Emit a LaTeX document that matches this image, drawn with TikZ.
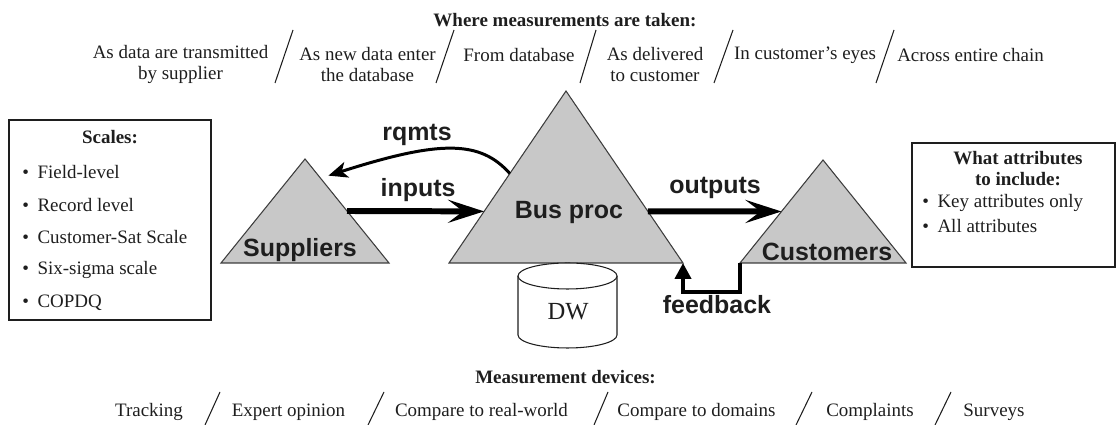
\documentclass[tikz,border=0pt]{standalone}
\usepackage{fontspec}
\setmainfont{Liberation Serif}
\setsansfont{Liberation Sans}
\usepackage{tikz}
\usetikzlibrary{arrows.meta, positioning, calc}
\usepackage{xcolor}
\definecolor{trigray}{RGB}{200,200,200}
\definecolor{edgegray}{RGB}{60,60,60}
\definecolor{inkgray}{RGB}{30,30,30}
\tikzset{%
	every process/.style={
		fill=trigray,
		draw=edgegray,
		line width=0.6pt
	},
	process label/.style={
		font=\sffamily\bfseries\fontsize{14.2}{16}\selectfont,
		text=inkgray,
		inner sep=0pt
	},
	place text/.style={
		font=\fontsize{10.8}{11.6}\selectfont,
		align=center,
		text=inkgray,
		inner sep=0pt
	},
	place title/.style={
		place text,
		font=\bfseries\fontsize{10.8}{11.6}\selectfont
	},
	info box/.style={
		draw=inkgray,
		line width=0.8pt,
		inner sep=0pt
	},
	divider/.style={
		draw=inkgray,
		line width=0.6pt
	},
	flow/.style={
		draw=black,
		line width=3.4pt,
		-{Stealth[length=0.72cm, width=0.46cm, inset=0.3cm]}
	},
	request/.style={
		draw=black,
		line width=1.7pt,
		-{Stealth[length=0.38cm, width=0.32cm, inset=0.1cm]}
	},
	back flow/.style={
		draw=black,
		line width=2.3pt,
		-{Triangle[length=0.32cm, width=0.32cm]}
	},
}
\begin{document}
\begin{tikzpicture}
			\useasboundingbox (0,0) rectangle (22.38,8.50);

			% Where measurements are taken
			\node[place title] (where) at (11.30,8.10) {Where measurements are taken:};
			\node[place text] (place1) at (3.61,7.21) {As data are transmitted\\by supplier};
			\node[place text] (place2) at (7.35,7.21) {As new data enter\\the database};
			\node[place text] (place3) at (10.38,7.40) {From database};
			\node[place text] (place4) at (13.10,7.21) {As delivered\\to customer};
			\node[place text] (place5) at (16.10,7.40) {In customer’s eyes};
			\node[place text] (place6) at (19.41,7.40) {Across entire chain};
			\draw[divider] (5.50,6.84) -- (5.86,7.90);
			\draw[divider] (8.72,6.84) -- (9.08,7.90);
			\draw[divider] (11.60,6.84) -- (11.92,7.90);
			\draw[divider] (14.28,6.84) -- (14.66,7.90);
			\draw[divider] (17.52,6.84) -- (17.88,7.90);

			% Scales box
			\node[info box, minimum width=4.04cm, minimum height=4.00cm] (scales) at (2.20,4.10) {};
			\node[place title] (scales head) at (2.20,5.76) {Scales:};
			\node[place text, anchor=west] (scale1) at (0.44,5.06) {\textbullet\hspace{0.45em}Field-level};
			\node[place text, anchor=west] (scale2) at (0.44,4.40) {\textbullet\hspace{0.45em}Record level};
			\node[place text, anchor=west] (scale3) at (0.44,3.76) {\textbullet\hspace{0.45em}Customer-Sat Scale};
			\node[place text, anchor=west] (scale4) at (0.44,3.10) {\textbullet\hspace{0.45em}Six-sigma scale};
			\node[place text, anchor=west] (scale5) at (0.44,2.44) {\textbullet\hspace{0.45em}COPDQ};

			% Attributes box
			\node[info box, minimum width=4.06cm, minimum height=2.48cm] (attrs) at (20.27,4.40) {};
			\node[place title] (attrs head) at (20.36,5.13) {What attributes\\to include:};
			\node[place text, anchor=west] (attr1) at (18.44,4.44) {\textbullet\hspace{0.45em}Key attributes only};
			\node[place text, anchor=west] (attr2) at (18.44,3.98) {\textbullet\hspace{0.45em}All attributes};

			% Suppliers
			\coordinate (sup-a) at (6.10,5.32);
			\coordinate (sup-l) at (4.42,3.24);
			\coordinate (sup-r) at (7.78,3.24);
			\draw[every process] (sup-a) -- (sup-l) -- (sup-r) -- cycle;
			\node[process label] (sup) at (6.00,3.50) {Suppliers};

			% Bus proc
			\coordinate (bus-a) at (11.32,6.68);
			\coordinate (bus-l) at (8.98,3.24);
			\coordinate (bus-r) at (13.66,3.24);
			\draw[every process] (bus-a) -- (bus-l) -- (bus-r) -- cycle;
			\node[process label] (bus) at (11.38,4.24) {Bus proc};

			% Customers
			\coordinate (cus-a) at (16.46,5.30);
			\coordinate (cus-l) at (14.80,3.24);
			\coordinate (cus-r) at (18.12,3.24);
			\draw[every process] (cus-a) -- (cus-l) -- (cus-r) -- cycle;
			\node[process label] (cus) at (16.54,3.46) {Customers};

			% DW cylinder
			\draw[fill=white, draw=inkgray, line width=0.6pt] (10.36,2.98) -- (10.36,1.80)
				arc[start angle=180, end angle=360, x radius=0.99, y radius=0.26] -- (12.34,2.98);
			\draw[fill=white, draw=inkgray, line width=0.6pt] (11.35,2.98) ellipse [x radius=0.99, y radius=0.26];
			\node[place text, font=\fontsize{14}{15}\selectfont] (dw) at (11.36,2.26) {DW};

			% Flows
			\draw[flow] ($(sup-a)!0.5!(sup-r)$) -- ($(bus-a)!0.7!(bus-l)$);
			\node[process label] (inputs) at (8.36,4.70) {inputs};
			\draw[flow] ($(bus-a)!0.7!(bus-r)$) -- ($(cus-a)!0.5!(cus-l)$);
			\node[process label] (outputs) at (14.30,4.74) {outputs};
			\coordinate (rq-end) at ([xshift=0.2cm]$(sup-a)!0.16!(sup-r)$);
			\draw[request] ($(bus-a)!0.48!(bus-l)$) .. controls (9.60,5.70) and (8.80,5.70) .. (rq-end);
			\node[process label] (rqmts) at (8.34,5.80) {rqmts};
			\draw[back flow] (cus-l) -- ++(0,-0.58) -| (bus-r);
			\node[process label] (feedback) at (14.34,2.40) {feedback};

			% Measurement devices
			\node[place title] (devices) at (11.31,0.96) {Measurement devices:};
			\node[place text] (dev1) at (2.98,0.26) {Tracking};
			\node[place text] (dev2) at (5.77,0.26) {Expert opinion};
			\node[place text] (dev3) at (9.63,0.26) {Compare to real-world};
			\node[place text] (dev4) at (13.93,0.26) {Compare to domains};
			\node[place text] (dev5) at (17.40,0.26) {Complaints};
			\node[place text] (dev6) at (19.88,0.26) {Surveys};
			\draw[divider] (4.10,0.00) -- (4.40,0.66);
			\draw[divider] (7.36,0.00) -- (7.68,0.66);
			\draw[divider] (11.88,0.00) -- (12.16,0.66);
			\draw[divider] (15.92,0.00) -- (16.24,0.66);
			\draw[divider] (18.70,0.00) -- (19.02,0.66);

		\end{tikzpicture}
\end{document}
